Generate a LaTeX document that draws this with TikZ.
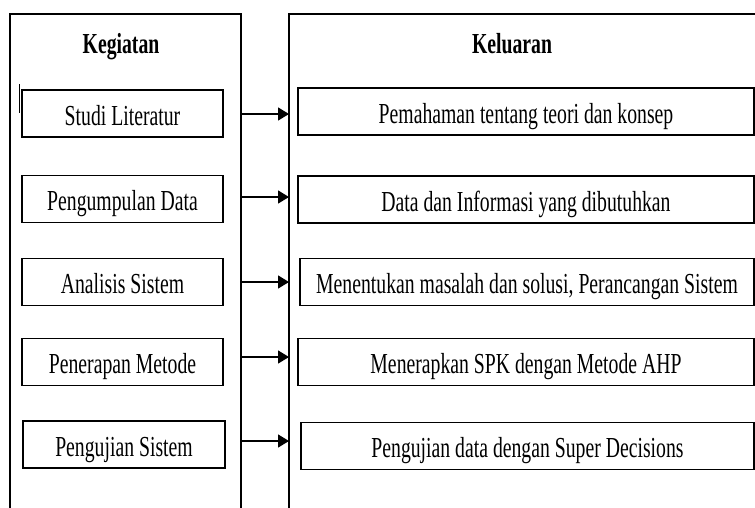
\documentclass[tikz,border=0pt]{standalone}
\usepackage{fontspec}
\setmainfont{Liberation Serif}[FakeStretch=0.68]
\usetikzlibrary{arrows.meta}
\begin{document}
\begin{tikzpicture}[x=1pt,y=-1pt,
  frame/.style={draw=black,line width=1.4pt},
  box/.style={draw=black,line width=1.4pt,rectangle,inner sep=0pt,minimum height=47pt,
     text height=26pt,text depth=3pt,font=\fontsize{29}{30}\selectfont},
  title/.style={anchor=base,font=\fontsize{29}{30}\selectfont\bfseries},
  arr/.style={draw=black,line width=1.4pt,-{Triangle[length=11pt,width=13pt]}}]
\useasboundingbox (0,0) rectangle (755,507);
\clip (0,0) rectangle (755,507);
% outer frames
\draw[frame] (10,520) -- (10,14) -- (241,14) -- (241,520);
\draw[frame] (289,520) -- (289,14) -- (760,14);
\draw[line width=1pt] (19,84) -- (19,113);
% titles
\node[title] (tk) at (121,53) {Kegiatan};
\node[title] (tl) at (512,53) {Keluaran};
% left boxes
\node[box,minimum width=201pt] (s1) at (122.5,113.5) {Studi Literatur};
\node[box,minimum width=201pt] (s2) at (122.5,199) {Pengumpulan Data};
\node[box,minimum width=201pt] (s3) at (122.5,282) {Analisis Sistem};
\node[box,minimum width=201pt] (s4) at (122.5,362) {Penerapan Metode};
\node[box,minimum width=202pt] (s5) at (124,444.5) {Pengujian Sistem};
% right boxes
\node[box,minimum width=456pt] (o1) at (526,111.5) {Pemahaman tentang teori dan konsep};
\node[box,minimum width=456pt] (o2) at (526,199.5) {Data dan Informasi yang dibutuhkan};
\node[box,minimum width=454pt] (o3) at (527,282) {Menentukan masalah dan solusi, Perancangan Sistem};
\node[box,minimum width=456pt] (o4) at (526,362) {Menerapkan SPK dengan Metode AHP};
\node[box,minimum width=453pt] (o5) at (527.5,446) {Pengujian data dengan Super Decisions};
% connector end points on the frames
\coordinate (a1) at (241,114); \coordinate (b1) at (289,114);
\coordinate (a2) at (241,197); \coordinate (b2) at (289,197);
\coordinate (a3) at (241,282); \coordinate (b3) at (289,282);
\coordinate (a4) at (241,357); \coordinate (b4) at (289,357);
\coordinate (a5) at (241,441); \coordinate (b5) at (289,441);
\foreach \i in {1,...,5} {\draw[arr] (a\i) -- (b\i);}
\end{tikzpicture}
\end{document}
